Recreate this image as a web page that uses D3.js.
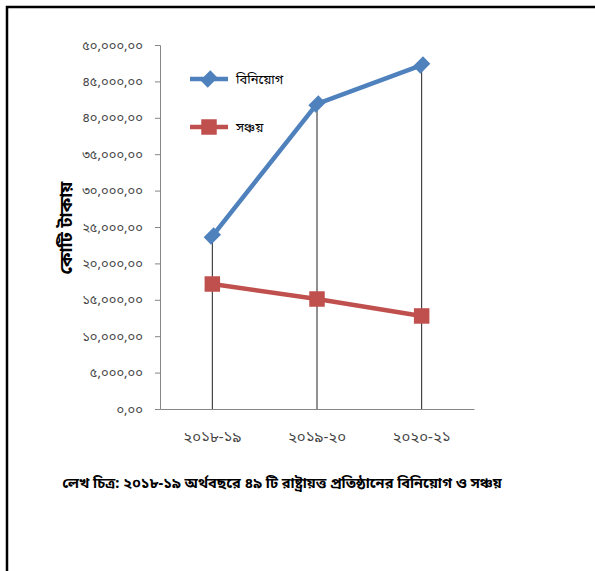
<!DOCTYPE html>
<html>
<head>
<meta charset="utf-8">
<script src="https://cdn.jsdelivr.net/npm/d3@7"></script>
<style>
  body { margin: 0; background: #fff; }
  svg { display: block; }
</style>
</head>
<body>
<script>
// data
var categories = ['২০১৮-১৯', '২০১৯-২০', '২০২০-২১'];
var investment = [23760, 41900, 47250];   // বিনিয়োগ
var savings = [17170, 15110, 12780];      // সঞ্চয়
var yTicks = [0, 5000, 10000, 15000, 20000, 25000, 30000, 35000, 40000, 45000, 50000];
var seriesNames = ['বিনিয়োগ', 'সঞ্চয়'];

var width = 595, height = 571;
var blue = '#4F81BD', red = '#C0504D';
var font = "'Noto Sans Bengali', 'Noto Sans', sans-serif";

var svg = d3.select('body').append('svg').attr('width', width).attr('height', height);

// outer frame (top and left edges visible)
svg.append('path')
    .attr('d', 'M7,' + height + ' V7 H' + width)
    .attr('fill', 'none').attr('stroke', '#000').attr('stroke-width', 2.5);

var plot = { left: 160, right: 474, top: 45, bottom: 409 };

var x = d3.scaleBand().domain(categories).range([plot.left, plot.right]);
var y = d3.scaleLinear().domain([0, 50000]).range([plot.bottom, plot.top]);

// bengali digits
function bn(s) {
    return String(s).replace(/[0-9]/g, function (d) { return '০১২৩৪৫৬৭৮৯'[+d]; });
}
function fmt(v) {
    return bn(d3.format(',')(v) + ',00');
}

// y axis
var yAxis = svg.append('g')
    .attr('transform', 'translate(' + plot.left + ',0)')
    .call(d3.axisLeft(y).tickValues(yTicks).tickSize(5).tickPadding(12).tickFormat(fmt));
yAxis.select('.domain').attr('stroke', '#868686');
yAxis.selectAll('.tick line').attr('stroke', '#868686');
yAxis.selectAll('text').attr('fill', '#444').style('font-family', font).style('font-size', '13px');

// x axis
var xAxis = svg.append('g')
    .attr('transform', 'translate(0,' + plot.bottom + ')')
    .call(d3.axisBottom(x).tickSize(0).tickPadding(22).tickFormat(bn));
xAxis.select('.domain').attr('stroke', '#868686');
xAxis.selectAll('text').attr('fill', '#444').style('font-family', font).style('font-size', '15px');

function cx(d, i) { return x(categories[i]) + x.bandwidth() / 2; }

// drop lines
svg.append('g').selectAll('line')
    .data(investment)
    .enter()
    .append('line')
    .attr('x1', cx).attr('x2', cx)
    .attr('y1', function (d) { return y(d); })
    .attr('y2', plot.bottom)
    .attr('stroke', '#222').attr('stroke-width', 1);

var line = d3.line().x(cx).y(function (d) { return y(d); });

svg.append('path').datum(investment)
    .attr('d', line).attr('fill', 'none')
    .attr('stroke', blue).attr('stroke-width', 4.5);
svg.append('path').datum(savings)
    .attr('d', line).attr('fill', 'none')
    .attr('stroke', red).attr('stroke-width', 4.5);

var diamond = d3.symbol().type(d3.symbolSquare).size(150);
svg.append('g').selectAll('path')
    .data(investment)
    .enter()
    .append('path')
    .attr('d', diamond)
    .attr('transform', function (d, i) { return 'translate(' + cx(d, i) + ',' + y(d) + ') rotate(45) scale(0.85,1.15)'; })
    .attr('fill', blue);

var square = d3.symbol().type(d3.symbolSquare).size(240);
svg.append('g').selectAll('path')
    .data(savings)
    .enter()
    .append('path')
    .attr('d', square)
    .attr('transform', function (d, i) { return 'translate(' + cx(d, i) + ',' + y(d) + ')'; })
    .attr('fill', red);

// legend
var legend = svg.append('g');
var legendY = [79, 127];
var legendColor = [blue, red];
legend.selectAll('line')
    .data(seriesNames)
    .enter()
    .append('line')
    .attr('x1', 190).attr('x2', 228)
    .attr('y1', function (d, i) { return legendY[i]; })
    .attr('y2', function (d, i) { return legendY[i]; })
    .attr('stroke', function (d, i) { return legendColor[i]; })
    .attr('stroke-width', 4.5);
legend.append('path')
    .attr('d', diamond)
    .attr('transform', 'translate(209,' + legendY[0] + ') rotate(45) scale(0.85,1.15)')
    .attr('fill', blue);
legend.append('path')
    .attr('d', square)
    .attr('transform', 'translate(209,' + legendY[1] + ')')
    .attr('fill', red);
legend.selectAll('text')
    .data(seriesNames)
    .enter()
    .append('text')
    .attr('x', 236)
    .attr('y', function (d, i) { return legendY[i]; })
    .attr('dy', '0.35em')
    .style('font-family', font).style('font-size', '13px')
    .attr('fill', '#000')
    .text(function (d) { return d; });

// y axis title
svg.append('text')
    .attr('transform', 'translate(66,228) rotate(-90)')
    .attr('text-anchor', 'middle')
    .attr('dy', '0.35em')
    .style('font-family', font).style('font-size', '18px').style('font-weight', 'bold')
    .text('কোটি টাকায়');

// caption
svg.append('text')
    .attr('x', 282).attr('y', 483)
    .attr('text-anchor', 'middle')
    .attr('dy', '0.35em')
    .style('font-family', font).style('font-size', '14.5px').style('font-weight', 'bold')
    .text('লেখ চিত্র: ২০১৮-১৯ অর্থবছরে ৪৯ টি রাষ্ট্রায়ত্ত প্রতিষ্ঠানের বিনিয়োগ ও সঞ্চয়');
</script>
</body>
</html>
